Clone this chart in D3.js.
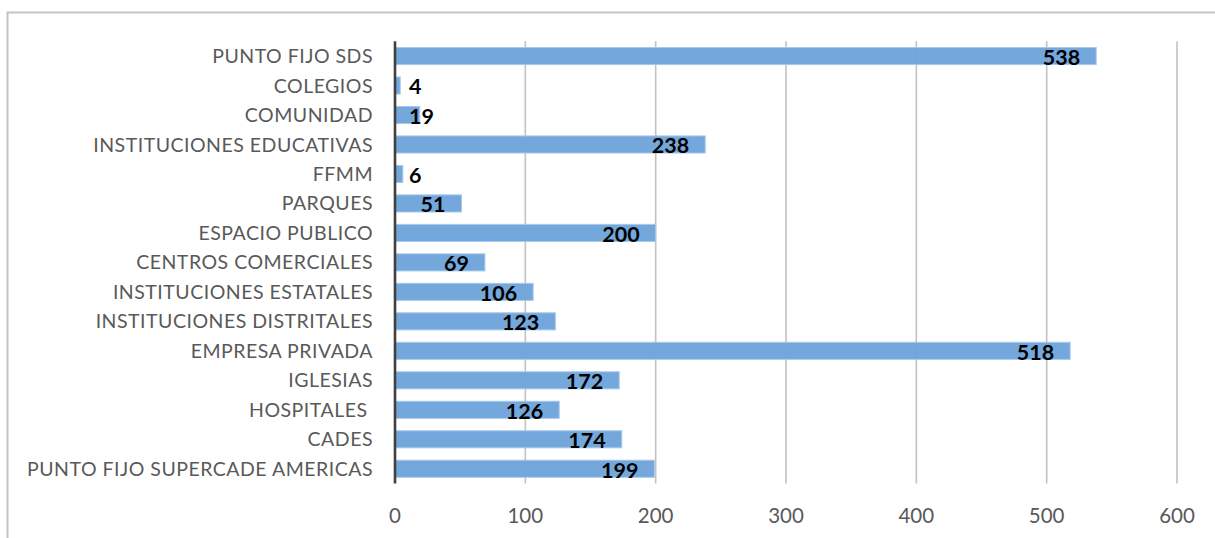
<!DOCTYPE html>
<html>
<head>
<meta charset="utf-8">
<script src="https://cdn.jsdelivr.net/npm/d3@7"></script>
<style>
  html, body { margin: 0; padding: 0; background: #fff; }
  svg { display: block; }
  text { white-space: pre; }
</style>
</head>
<body>
<svg id="chart" width="1215" height="538"></svg>
<script>
// Categories, top to bottom
const categories = [
  "PUNTO FIJO SDS",
  "COLEGIOS",
  "COMUNIDAD",
  "INSTITUCIONES EDUCATIVAS",
  "FFMM",
  "PARQUES",
  "ESPACIO PUBLICO",
  "CENTROS COMERCIALES",
  "INSTITUCIONES ESTATALES",
  "INSTITUCIONES DISTRITALES",
  "EMPRESA PRIVADA",
  "IGLESIAS",
  "HOSPITALES ",
  "CADES",
  "PUNTO FIJO SUPERCADE AMERICAS"
];
const values = [538, 4, 19, 238, 6, 51, 200, 69, 106, 123, 518, 172, 126, 174, 199];
const xTicks = [0, 100, 200, 300, 400, 500, 600];

const svg = d3.select("#chart");
const W = 1215, H = 538;
const plot = { left: 395, right: 1177, top: 41.3, bottom: 483.5 };
const FONT = "Lato, 'Open Sans', sans-serif";

// Outer chart frame
svg.append("rect")
  .attr("x", 7.5).attr("y", 12.5)
  .attr("width", W + 10).attr("height", H + 10)
  .attr("fill", "#fff")
  .attr("stroke", "#c4c4c4")
  .attr("stroke-width", 2);

const x = d3.scaleLinear().domain([0, 600]).range([plot.left, plot.right]);
const y = d3.scaleBand()
  .domain(categories)
  .range([plot.top, plot.bottom])
  .paddingInner(0.42)
  .paddingOuter(0.21);

const data = categories.map((c, i) => ({ cat: c, val: values[i] }));

// Vertical gridlines
svg.append("g")
  .selectAll("line")
  .data(xTicks.filter(t => t > 0))
  .join("line")
  .attr("x1", d => x(d)).attr("x2", d => x(d))
  .attr("y1", plot.top).attr("y2", plot.bottom)
  .attr("stroke", "#c2c2c2")
  .attr("stroke-width", 1.6);

// Bars
svg.append("g")
  .selectAll("rect")
  .data(data)
  .join("rect")
  .attr("x", x(0))
  .attr("y", d => y(d.cat))
  .attr("width", d => x(d.val) - x(0))
  .attr("height", y.bandwidth())
  .attr("fill", "#6fa5db")
  .attr("fill-opacity", 0.97)
  .attr("stroke", "#a7c9ec")
  .attr("stroke-width", 1);

// Category axis line
svg.append("line")
  .attr("x1", x(0)).attr("x2", x(0))
  .attr("y1", plot.top).attr("y2", plot.bottom)
  .attr("stroke", "#404040")
  .attr("stroke-width", 2.6);

// Category labels
svg.append("g")
  .selectAll("text")
  .data(data)
  .join("text")
  .attr("x", 373)
  .attr("y", d => y(d.cat) + y.bandwidth() / 2)
  .attr("dy", "0.36em")
  .attr("text-anchor", "end")
  .attr("font-family", FONT)
  .attr("font-size", 19.5)
  .attr("letter-spacing", 0.5)
  .attr("fill", "#595959")
  .text(d => d.cat);

// Value axis tick labels
svg.append("g")
  .selectAll("text")
  .data(xTicks)
  .join("text")
  .attr("x", d => x(d))
  .attr("y", 516)
  .attr("dy", "0.36em")
  .attr("text-anchor", "middle")
  .attr("font-family", FONT)
  .attr("font-size", 20.5)
  .attr("fill", "#595959")
  .text(d => d);

// Value labels: right-aligned inside bar end, pushed right of the axis when the bar is too short
const labels = svg.append("g")
  .selectAll("text")
  .data(data)
  .join("text")
  .attr("y", d => y(d.cat) + y.bandwidth() / 2 + 1)
  .attr("dy", "0.36em")
  .attr("font-family", FONT)
  .attr("font-weight", 700)
  .attr("font-size", 21.5)
  .attr("fill", "#000")
  .text(d => d.val);

labels.each(function(d) {
  const w = this.getComputedTextLength();
  const minLeft = x(0) + 14;
  let left = x(d.val) - 16 - w;
  if (left < minLeft) left = minLeft;
  d3.select(this).attr("x", left);
});
</script>
</body>
</html>
